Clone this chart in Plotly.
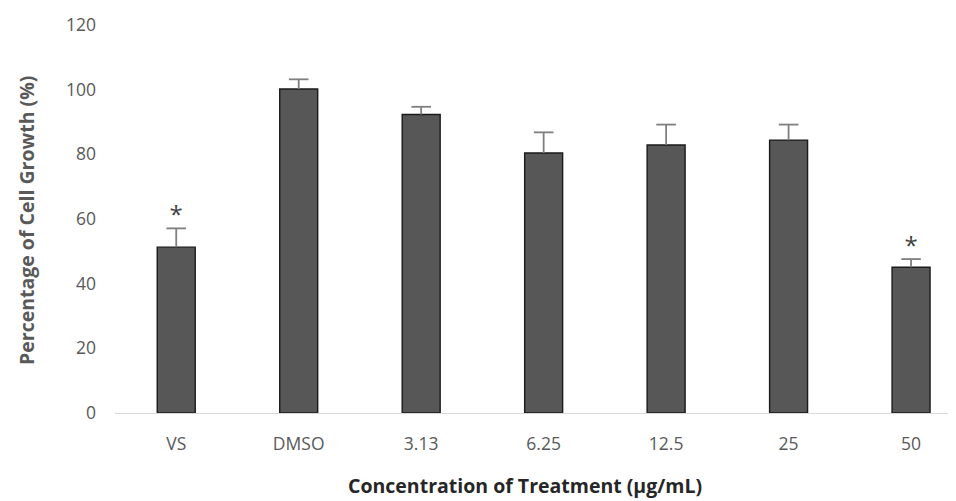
import plotly.graph_objects as go

categories = ["VS", "DMSO", "3.13", "6.25", "12.5", "25", "50"]
growth = [51.3, 100.2, 92.3, 80.4, 82.9, 84.4, 45.1]
error_up = [5.8, 3.0, 2.4, 6.4, 6.3, 4.8, 2.5]
significant = [True, False, False, False, False, False, True]
y_ticks = [0, 20, 40, 60, 80, 100, 120]

FONT = "Open Sans"
GRAY = "#595959"
ERR = "#7f7f7f"

fig = go.Figure()
fig.add_trace(go.Bar(
    x=categories, y=growth, width=0.31,
    marker=dict(color="#575757", line=dict(color="#1a1a1a", width=1.4)),
    error_y=dict(type="data", symmetric=False, array=error_up,
                 arrayminus=[0] * len(growth), color=ERR,
                 thickness=1.8, width=0),
    hoverinfo="skip",
))
# error-bar caps
fig.add_trace(go.Scatter(
    x=categories, y=[g + e for g, e in zip(growth, error_up)], mode="markers",
    marker=dict(symbol="line-ew", size=14, line=dict(color=ERR, width=1.8)),
    hoverinfo="skip",
))

star_x = [c for c, s in zip(categories, significant) if s]
star_y = [g + e + 3.4 for g, e, s in zip(growth, error_up, significant) if s]
fig.add_trace(go.Scatter(
    x=star_x, y=star_y, mode="text", text=["*"] * len(star_x),
    textposition="middle center",
    textfont=dict(family=FONT, size=24, color="#404040"),
    hoverinfo="skip",
))

fig.update_layout(
    width=948, height=493,
    margin=dict(l=107, r=0, t=17, b=88),
    paper_bgcolor="white", plot_bgcolor="white",
    showlegend=False,
    font=dict(family=FONT, size=17.5, color=GRAY),
    xaxis=dict(type="category", range=[-0.5, 6.367], showgrid=False,
               showline=True, linecolor="#d9d9d9", linewidth=1,
               ticks="", ticklabelstandoff=15,
               tickfont=dict(family=FONT, size=17.5, color=GRAY)),
    yaxis=dict(range=[0, 120], tickvals=y_ticks, showgrid=False,
               zeroline=False, showline=False, ticks="",
               ticklabelstandoff=18,
               tickfont=dict(family=FONT, size=17.5, color=GRAY)),
    annotations=[
        dict(text="<b>Percentage of Cell Growth (%)</b>", xref="paper", yref="paper",
             x=-0.1046, y=0.495, textangle=-90, showarrow=False,
             xanchor="center", yanchor="middle",
             font=dict(family=FONT, size=19.5, color=GRAY)),
        dict(text="<b>Concentration of Treatment (µg/mL)</b>", xref="paper", yref="paper",
             x=0.4875, y=-0.186, showarrow=False,
             xanchor="center", yanchor="middle",
             font=dict(family=FONT, size=19.5, color="#262626")),
    ],
)

fig.write_html("out.html")
